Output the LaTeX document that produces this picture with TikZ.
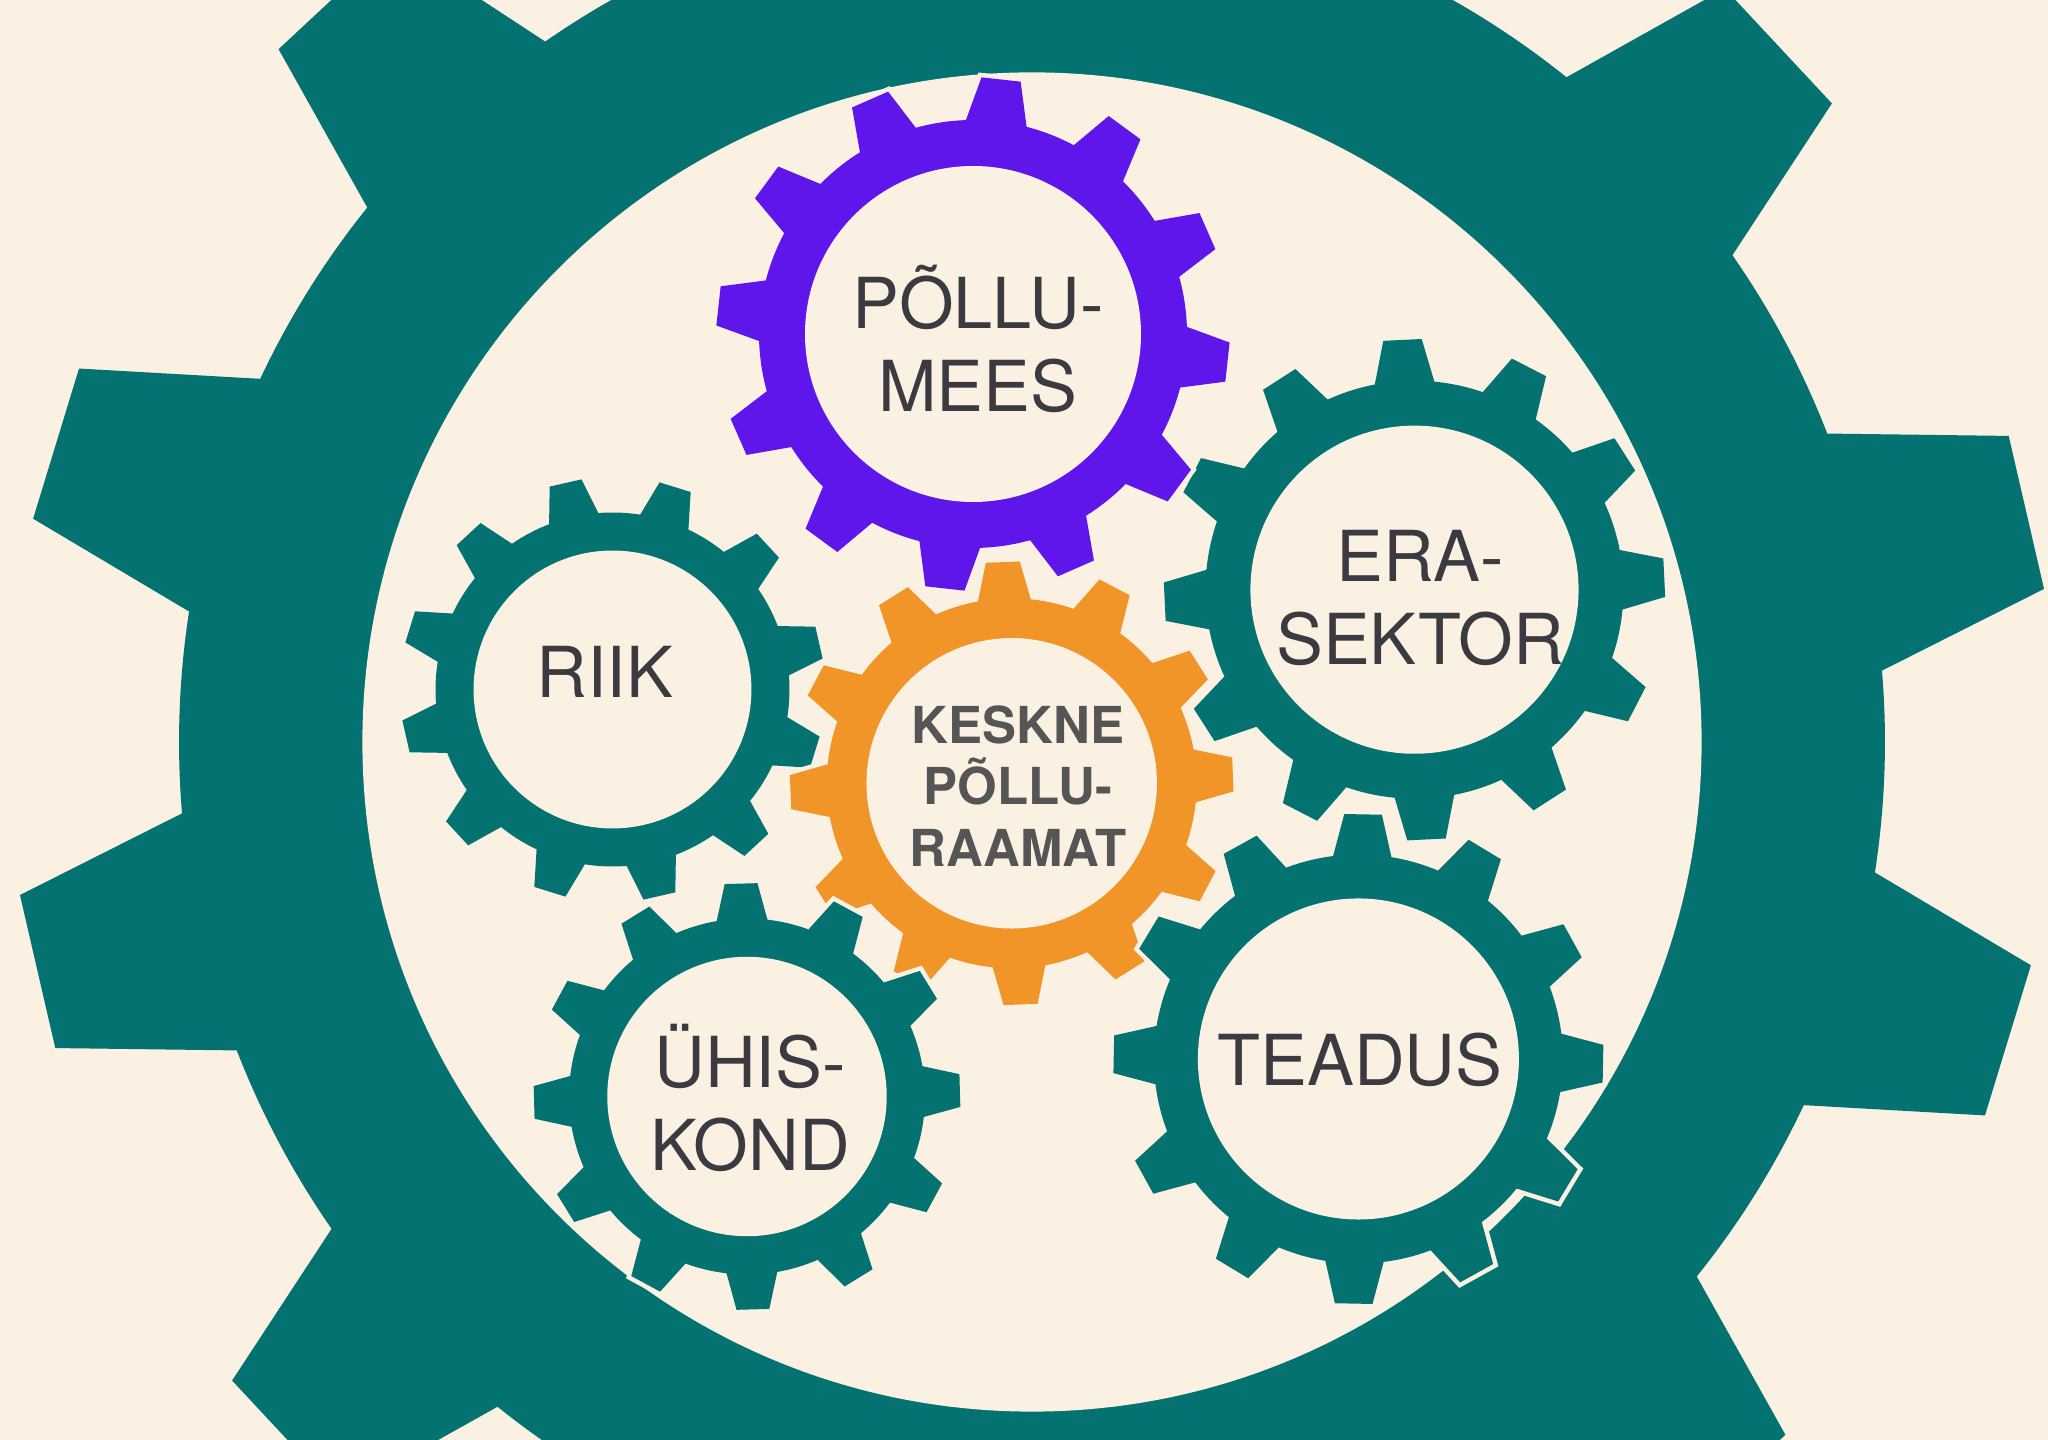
\documentclass[tikz,border=0pt]{standalone}
\usepackage{fontspec}
\setmainfont{TeX Gyre Heros}
\usepackage{xcolor}
\definecolor{cream}{RGB}{251,241,227}
\definecolor{gearteal}{RGB}{3,114,112}
\definecolor{gearpurple}{RGB}{95,22,234}
\definecolor{gearorange}{RGB}{241,149,40}
\definecolor{labelgray}{RGB}{58,58,64}
\definecolor{boldgray}{RGB}{85,85,85}
\usepackage{tikz}

% #1 centre, #2 radius of the body, #3 angle of the first tooth, #4 colour
\newcommand{\drawgear}[4]{%
  \begin{scope}[shift={#1}]
    \fill[#4, preaction={draw=cream, line width=0.9mm}] (#3-8.2:#2)
      \foreach \k [evaluate=\k as \ang using #3+30*\k] in {0,...,11}
        { -- (\ang-8.2:#2) -- (\ang-4.4:1.2*#2) -- (\ang+4.4:1.2*#2) -- (\ang+8.2:#2)
          arc[start angle=\ang+8.2, end angle=\ang+21.8, radius=#2] } -- cycle;
    \fill[cream] (0,0) circle[radius=0.785*#2];
  \end{scope}}

\begin{document}
\begin{tikzpicture}[
    geartext/.style={align=center, inner sep=0pt, text=labelgray, font=\fontsize{20}{23.8}\selectfont},
    hubtext/.style={geartext, text=boldgray, font=\bfseries\fontsize{14.5}{17.6}\selectfont}]
    \useasboundingbox (0,0) rectangle (20.48,14.40);
    \fill[cream] (0,0) rectangle (20.48,14.40);
    \clip (0,0) rectangle (20.48,14.40);
    \drawgear{(10.32,6.98)}{8.53}{13}{gearteal}
    \drawgear{(6.125,7.505)}{1.77}{12.8}{gearteal}
    \drawgear{(14.145,8.503)}{2.09}{2.75}{gearteal}
    \drawgear{(9.73,11.06)}{2.14}{23.7}{gearpurple}
    \drawgear{(10.117,6.567)}{1.85}{2.3}{gearorange}
    \drawgear{(7.47,3.435)}{1.78}{1.6}{gearteal}
    \drawgear{(13.584,3.81)}{2.045}{-1.1}{gearteal}
    \node[geartext] (pollumees) at (9.78,11.01) {PÕLLU-\\MEES};
    \node[geartext] (riik) at (6.05,7.68) {RIIK};
    \node[hubtext] (keskne) at (10.18,6.54) {KESKNE\\PÕLLU-\\RAAMAT};
    \node[geartext] (erasektor) at (14.20,8.42) {ERA-\\SEKTOR};
    \node[geartext] (uhiskond) at (7.50,3.42) {ÜHIS-\\KOND};
    \node[geartext] (teadus) at (13.60,3.80) {TEADUS};
\end{tikzpicture}
\end{document}
